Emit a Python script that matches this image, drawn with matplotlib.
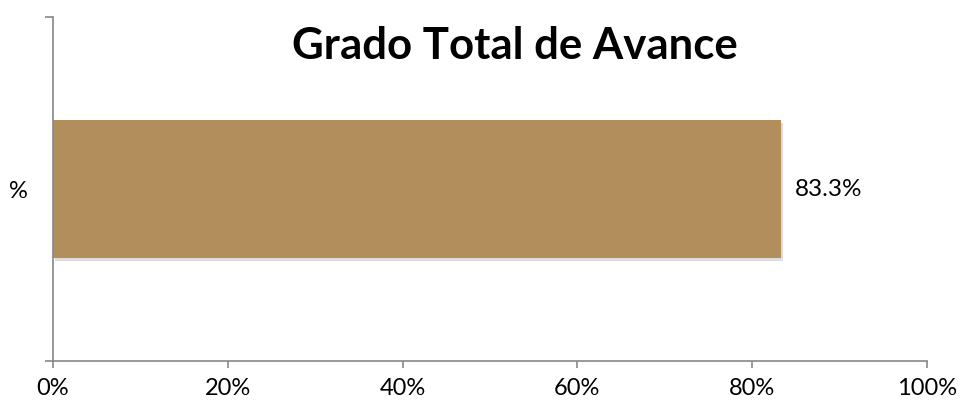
import matplotlib.pyplot as plt
import matplotlib.patheffects as pe
from matplotlib.ticker import FixedLocator

# data
categories = ['%']
values = [83.3]
xticks = [0, 20, 40, 60, 80, 100]
xtick_labels = ['0%', '20%', '40%', '60%', '80%', '100%']
title = 'Grado Total de Avance'

plt.rcParams['font.family'] = ['Lato', 'DejaVu Sans']

fig = plt.figure(figsize=(9.61, 4.05), dpi=100)
ax = fig.add_axes([53 / 961, 44 / 405, 874 / 961, 344 / 405])

bars = ax.barh(categories, values, height=0.4, color='#B38E5D')
for b in bars:
    b.set_path_effects([pe.SimplePatchShadow(offset=(1.5, -2), shadow_rgbFace='#aaaaaa', alpha=0.4),
                        pe.Normal()])

for v, c in zip(values, categories):
    ax.text(v + 1.6, c, f'{v:.1f}%', va='center', ha='left', fontsize=17.5)

ax.set_xlim(0, 100)
ax.set_ylim(-0.5, 0.5)
ax.set_xticks(xticks)
ax.set_xticklabels(xtick_labels, fontsize=17)
ax.tick_params(axis='x', direction='out', length=5, width=1.2, color='#888888', pad=7)
ax.tick_params(axis='y', which='major', length=0, pad=18, labelsize=17)
ax.yaxis.set_minor_locator(FixedLocator([-0.5, 0.5]))
ax.tick_params(axis='y', which='minor', direction='out', length=6, width=1.2, color='#888888')

for s in ['top', 'right']:
    ax.spines[s].set_visible(False)
for s in ['left', 'bottom']:
    ax.spines[s].set_color('#888888')
    ax.spines[s].set_linewidth(1.2)

fig.text(515 / 961, 1 - 46 / 405, title, ha='center', va='center', fontsize=31.5, fontweight='bold')

fig.savefig('out.png', dpi=100)
